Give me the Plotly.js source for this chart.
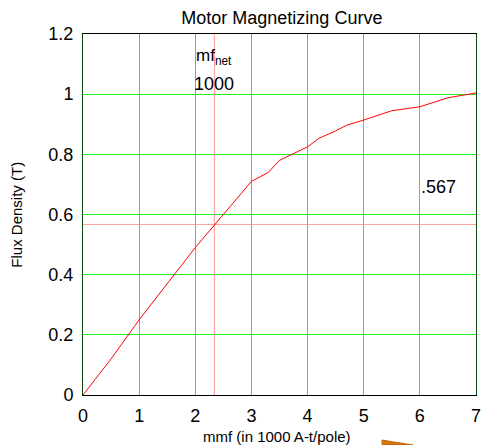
<!DOCTYPE html>
<html>
<head>
<meta charset="utf-8">
<script src="https://cdn.plot.ly/plotly-3.0.1.min.js"></script>
<style>
html,body{margin:0;padding:0;background:#fff;}
#chart{width:481px;height:445px;}
</style>
</head>
<body>
<div id="chart"></div>
<script>
// mmf in 1000 A-t/pole
const mmf = [0, 0.5, 1, 1.5, 2, 2.5, 3, 3.3, 3.5, 4, 4.2, 4.5, 4.7, 5, 5.5, 6, 6.5, 7];
// Flux density (T)
const flux = [0, 0.12, 0.25, 0.37, 0.49, 0.6, 0.71, 0.74, 0.78, 0.825, 0.853, 0.878, 0.897, 0.914, 0.945, 0.958, 0.988, 1.004];
const mmfNet = 2.34;
const fluxAtNet = 0.567;
const xTicks = [0, 1, 2, 3, 4, 5, 6, 7];
const yTicks = [0, 0.2, 0.4, 0.6, 0.8, 1, 1.2];
const yTickLabels = ["0", "0.2", "0.4", "0.6", "0.8", "1", "1.2"];

const font = "Liberation Sans, Arial, sans-serif";

const traces = [
  {x: [mmfNet, mmfNet], y: [0, 1.2], mode: "lines", line: {color: "#ff9a9a", width: 1}, hoverinfo: "skip"},
  {x: [0, 7], y: [fluxAtNet, fluxAtNet], mode: "lines", line: {color: "#ff9a9a", width: 1}, hoverinfo: "skip"},
  {x: mmf, y: flux, mode: "lines", line: {color: "#ff0000", width: 1}}
];

const layout = {
  width: 481, height: 445,
  margin: {l: 83, r: 5, t: 34, b: 50},
  paper_bgcolor: "#ffffff", plot_bgcolor: "#ffffff",
  showlegend: false,
  font: {family: font, color: "#000"},
  title: {text: "Motor Magnetizing Curve", font: {size: 18, family: font, color: "#000"}, x: 0.586, xanchor: "center", y: 0.96, yanchor: "middle"},
  xaxis: {
    range: [0, 7], tickvals: xTicks, ticktext: xTicks.map(String),
    showgrid: true, gridcolor: "#22f022", gridwidth: 1,
    zeroline: false, showline: true, linecolor: "#000000", linewidth: 1, mirror: true,
    ticks: "outside", ticklen: 4, tickcolor: "rgba(0,0,0,0)",
    ticklabeloverflow: "allow",
    tickfont: {size: 18, family: font, color: "#000"},
    automargin: false
  },
  yaxis: {
    range: [0, 1.2], tickvals: yTicks, ticktext: yTickLabels,
    showgrid: true, gridcolor: "#22f022", gridwidth: 1,
    zeroline: false, showline: true, linecolor: "#0a4d0a", linewidth: 1, mirror: true,
    ticks: "outside", ticklen: 5, tickcolor: "rgba(0,0,0,0)",
    ticklabeloverflow: "allow",
    tickfont: {size: 18, family: font, color: "#000"},
    automargin: false
  },
  annotations: [
    {x: mmfNet, y: 1.123, xref: "x", yref: "y", text: "mf<sub>net</sub>", showarrow: false, font: {size: 17, family: font, color: "#000"}},
    {x: mmfNet, y: 1.035, xref: "x", yref: "y", text: "1000", showarrow: false, font: {size: 18, family: font, color: "#000"}},
    {x: 6.34, y: 0.69, xref: "x", yref: "y", text: ".567", showarrow: false, font: {size: 18, family: font, color: "#000"}},
    {x: 0.494, y: -0.114, xref: "paper", yref: "paper", text: "mmf (in 1000 A-t/pole)", showarrow: false, xanchor: "center", yanchor: "middle", font: {size: 15, family: font, color: "#000"}},
    {x: -0.17, y: 0.5, xref: "paper", yref: "paper", text: "Flux Density (T)", textangle: -90, showarrow: false, xanchor: "center", yanchor: "middle", font: {size: 15, family: font, color: "#000"}}
  ],
  shapes: [
    {type: "path", xref: "paper", yref: "paper",
     path: "M 0.761 -0.1247 L 0.790 -0.130 L 0.840 -0.1385 L 0.761 -0.1385 Z",
     fillcolor: "#d97706", line: {color: "#c06008", width: 1}}
  ]
};

Plotly.newPlot("chart", traces, layout, {displayModeBar: false, staticPlot: true});
</script>
</body>
</html>
